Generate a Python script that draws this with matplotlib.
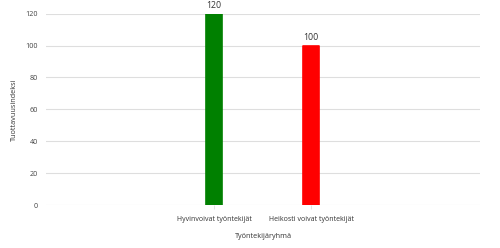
import matplotlib.pyplot as plt

groups = ["Hyvinvoivat työntekijät", "Heikosti voivat työntekijät"]
productivity = [120, 100]
bar_colors = ["#008000", "#ff0000"]
y_ticks = [0, 20, 40, 60, 80, 100, 120]

plt.rcParams['font.family'] = ['Open Sans', 'DejaVu Sans']

fig = plt.figure(figsize=(5, 2.48), dpi=100)
ax = fig.add_axes([46 / 500, 1 - 205 / 248, 434 / 500, (205 - 13.7) / 248])

x = range(len(groups))
bars = ax.bar(x, productivity, width=0.16, color=bar_colors,
              edgecolor=bar_colors, linewidth=1.2, joinstyle='round', zorder=3)

# arvot pylväiden yläpuolelle
for b, v in zip(bars, productivity):
    ax.annotate(str(v), (b.get_x() + b.get_width() / 2, v),
                xytext=(0, 2.5), textcoords='offset points',
                ha='center', va='bottom', fontsize=6.3, color='#333333')

ax.set_xlim(-1.73, 2.74)
ax.set_ylim(0, 120)
ax.set_yticks(y_ticks)
ax.set_xticks(list(x))
ax.set_xticklabels(groups)
ax.grid(axis='y', color='#dedede', linewidth=0.8, zorder=0)
for s in ax.spines.values():
    s.set_visible(False)

ax.tick_params(axis='y', length=0, pad=6, labelsize=5.2, labelcolor='#444444')
ax.tick_params(axis='x', length=3, width=0.6, color='#dedede', pad=5,
               labelsize=5.0, labelcolor='#333333')

ax.set_ylabel("Tuottavuusindeksi", fontsize=5.2, color='#333333', labelpad=5)
ax.set_xlabel("Työntekijäryhmä", fontsize=5.2, color='#333333', labelpad=7)

fig.savefig("out.png", dpi=100)
